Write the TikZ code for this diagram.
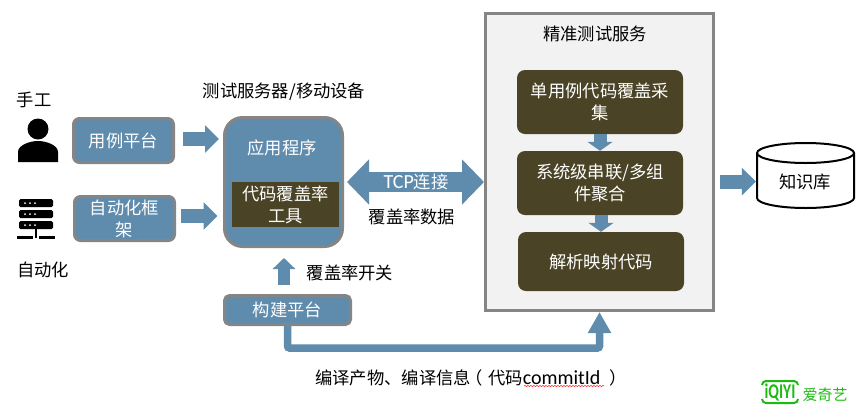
\documentclass[tikz,border=0pt]{standalone}
\usepackage{graphicx}
\usepackage{fontspec}
\setmainfont{Noto Sans CJK SC}
\newfontfamily\latin{Carlito}
\usetikzlibrary{arrows.meta, decorations.pathmorphing}
\definecolor{steel}{HTML}{5F8BAD}
\definecolor{olive}{HTML}{4A4326}
\definecolor{edge}{HTML}{858585}
\definecolor{panel}{HTML}{F2F2F2}
\definecolor{brand}{HTML}{1DBB12}

\begin{document}
\begin{tikzpicture}[x=1pt, y=-1pt, font=\fontsize{17.3}{22}\selectfont]
    \tikzstyle{bluebox} = [rectangle, rounded corners=6pt, draw=edge, line width=3pt, fill=steel, text=white, align=center, inner sep=0pt]
    \tikzstyle{darkbox} = [rectangle, rounded corners=8pt, fill=olive, text=white, align=center, inner sep=0pt, minimum width=166pt]
    \tikzstyle{label} = [inner sep=0pt, align=center, text=black]
    \tikzstyle{flow} = [draw=steel, line width=14pt, -{Triangle[length=14pt,width=27pt]}]
    \tikzstyle{smallflow} = [draw=steel, line width=13pt, -{Triangle[length=9pt,width=25pt]}]

    \useasboundingbox (0,0) rectangle (866,416);

    \node[rectangle, draw=edge, line width=3pt, fill=panel, minimum width=228pt, minimum height=297pt] (service) at (599.5,162) {};
    \node[label] (servicetitle) at (595,34) {精准测试服务};
    \node[darkbox, minimum height=64pt] (collect) at (600,102) {单用例代码覆盖采\\集};
    \node[darkbox, minimum height=64pt] (merge) at (600,183) {系统级串联/多组\\件聚合};
    \node[darkbox, minimum height=59pt] (parse) at (601,261.5) {解析映射代码};

    \node[bluebox, minimum width=100pt, minimum height=44pt] (caseplat) at (123.5,140.5) {用例平台};
    \node[bluebox, minimum width=100pt, minimum height=44pt] (autoframe) at (124.5,218.5) {自动化框\\架};
    \node[bluebox, rounded corners=18pt, minimum width=118pt, minimum height=129pt] (app) at (283.5,182) {};
    \node[label, text=white] (applabel) at (282,148) {应用程序};
    \node[rectangle, fill=olive, text=white, align=center, inner sep=0pt, minimum width=107pt, minimum height=45pt] (covtool) at (285.5,204.5) {代码覆盖率\\工具};
    \node[bluebox, rounded corners=5pt, minimum width=126pt, minimum height=29pt] (build) at (287.5,310) {构建平台};

    \draw[black, line width=2pt, fill=white] (757,153) -- (757,198) arc[start angle=180, end angle=0, x radius=48.5, y radius=10] -- (854,153) arc[start angle=360, end angle=180, x radius=48.5, y radius=10] -- cycle;
    \draw[black, line width=2pt] (757,153) arc[start angle=180, end angle=0, x radius=48.5, y radius=10];
    \node[label, minimum width=99pt, minimum height=67pt] (kb) at (805.5,175.5) {};
    \node[label] (kblabel) at (805,182) {知识库};

    \node[label] (manual) at (34,100) {手工};
    \node[label] (auto) at (43,270) {自动化};
    \node[label] (server) at (284,92) {测试服务器/移动设备};
    \node[label] (covdata) at (412,217) {覆盖率数据};
    \node[label] (covswitch) at (350,273) {覆盖率开关};
    \node[label, anchor=west] (buildinfo) at (315,378) {编译产物、编译信息\kern-5pt（\kern5pt 代码{\latin\fontsize{20}{22}\selectfont commitId}\kern9pt）};

    \coordinate (kbin) at (720,181.5);
    \coordinate (bend) at (500,348);

    \draw[flow, shorten <=8pt, shorten >=4pt] ([yshift=1.5pt]caseplat.east) -- ([yshift=1.5pt]caseplat.east -| app.west);
    \draw[flow, shorten <=4.5pt, shorten >=5.5pt] ([yshift=2.5pt]autoframe.east) -- ([yshift=2.5pt]autoframe.east -| app.west);
    \draw[draw=steel, line width=12pt, -{Triangle[length=11pt,width=22pt]}, shorten <=9.5pt, shorten >=10pt] ([xshift=-3.5pt]build.north) -- ([xshift=-3.5pt]build.north |- app.south);
    \draw[draw=steel, line width=20pt, {Triangle[length=22pt,width=44pt]}-{Triangle[length=22pt,width=44pt]}, shorten <=3pt] (app.east) -- (app.east -| service.west) node[midway, xshift=2pt, text=white, inner sep=0pt] (tcp) {{\latin\fontsize{20}{22}\selectfont TCP}连接};
    \draw[draw=steel, line width=7.5pt, rounded corners=2pt, -{Triangle[length=21pt,width=22pt]}] (build.south) |- (bend) -| (service.south);
    \draw[smallflow] (collect.south) -- (merge.north);
    \draw[smallflow] (parse.north |- merge.south) -- (parse.north);
    \draw[flow] (kbin) -- (kbin -| kb.west);

    \draw[red!80, line width=0.6pt, decorate, decoration={snake, amplitude=0.6pt, segment length=3pt}] (524,386) -- (604,386);

    \fill (38,129) circle (10.5);
    \fill (18,162) -- (18,152) .. controls (18,145) and (30,141) .. (38,141) .. controls (46,141) and (58,145) .. (58,152) -- (58,162) -- cycle;

    \foreach \y in {199,210,221} {
        \fill[rounded corners=1.5pt] (19,\y) rectangle (53,\y+8);
        \foreach \x in {25,30,35}
            \fill[white] (\x,\y+4) circle (1);
    }
    \fill (35,229) rectangle (37,238);
    \fill (17,236) rectangle (33,238.5);
    \fill (39,236) rectangle (55,238.5);

    \draw[brand, line width=2pt, rounded corners=4pt] (762,385) -- (762,381) -- (798,381) -- (798,385);
    \draw[brand, line width=2pt, rounded corners=4pt] (762,399) -- (762,403) -- (798,403) -- (798,399);
    \node[text=brand, inner sep=0pt] (logoword) at (780,392) {\latin\fontsize{15.5}{15.5}\selectfont\bfseries\scalebox{1}[1.35]{iQIYI}};
    \node[text=brand, inner sep=0pt] (logotext) at (825,395) {\fontsize{15}{15}\selectfont 爱奇艺};
\end{tikzpicture}
\end{document}
